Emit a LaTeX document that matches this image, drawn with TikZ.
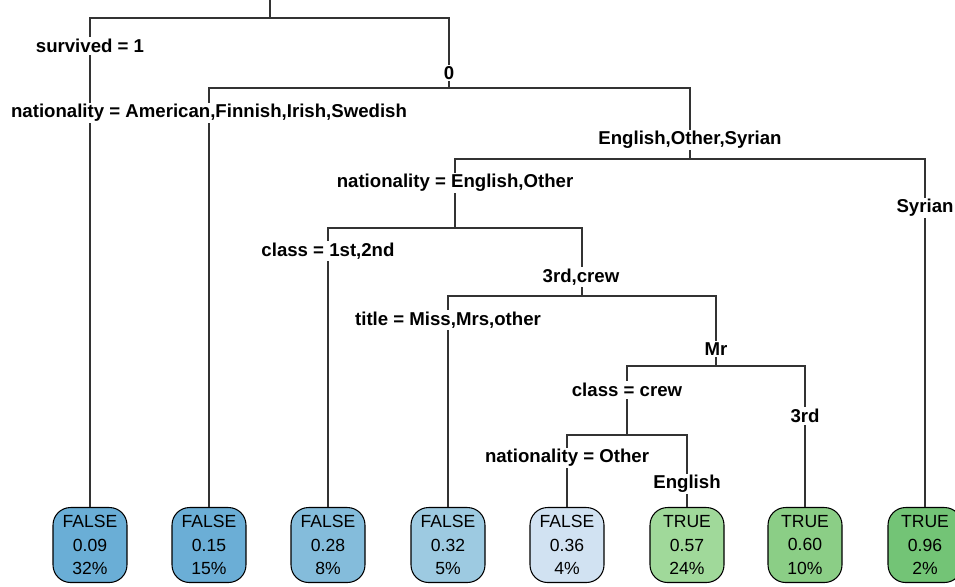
\documentclass[tikz,border=0pt]{standalone}
\usepackage{fontspec}
\setmainfont{Liberation Sans}
\usepackage{tikz}
\definecolor{leaf1}{HTML}{6AAED6}
\definecolor{leaf2}{HTML}{6BAED6}
\definecolor{leaf3}{HTML}{84BCDB}
\definecolor{leaf4}{HTML}{9DCAE1}
\definecolor{leaf5}{HTML}{D1E2F2}
\definecolor{leaf6}{HTML}{A0D99A}
\definecolor{leaf7}{HTML}{8BCE86}
\definecolor{leaf8}{HTML}{73C476}
\tikzstyle{leaf} = [rectangle, draw, rounded corners=10pt, line width=0.6pt,
                 minimum width=1.48cm, minimum height=1.5cm, inner sep=0pt,
                 align=center, font=\fontsize{10}{13.3}\selectfont]
\tikzstyle{branch} = [draw=black!80, line width=0.6pt]
\tikzstyle{split} = [fill=white, inner sep=1pt,
                 font=\bfseries\fontsize{10.6}{12}\selectfont]

\begin{document}
\begin{tikzpicture}[x=0.02cm, y=-0.02cm]
\useasboundingbox (0,0) rectangle (955,586);

% leaves
\foreach \i/\x/\cls/\prob/\pct in {1/90/FALSE/0.09/32, 2/209/FALSE/0.15/15,
    3/328/FALSE/0.28/8, 4/448/FALSE/0.32/5, 5/567/FALSE/0.36/4,
    6/687/TRUE/0.57/24, 7/805/TRUE/0.60/10, 8/925/TRUE/0.96/2}
	\node [leaf, fill=leaf\i] (leaf\i) at (\x,545) {\cls\\\prob\\\pct\%};

% split bars
\coordinate (top) at (270,0);
\coordinate (b1) at (270,18);
\coordinate (b2) at (449,88);
\coordinate (b3) at (690,159);
\coordinate (b4) at (455,228);
\coordinate (b5) at (582,296);
\coordinate (b6) at (716,366);
\coordinate (b7) at (627,435);

\path[branch] (top) -- (b1);
\path[branch] (leaf1.north) |- (b1) -| (b2);
\path[branch] (leaf2.north) |- (b2) -| (b3);
\path[branch] (b4) |- (b3) -| (leaf8.north);
\path[branch] (leaf3.north) |- (b4) -| (b5);
\path[branch] (leaf4.north) |- (b5) -| (b6);
\path[branch] (b7) |- (b6) -| (leaf7.north);
\path[branch] (leaf5.north) |- (b7) -| (leaf6.north);

% split labels
\node [split] (l1) at (90,46) {survived = 1};
\node [split] (r1) at (449,73) {0};
\node [split] (l2) at (209,113) {nationality = American,Finnish,Irish,Swedish};
\node [split] (r2) at (690,140) {English,Other,Syrian};
\node [split] (l3) at (455,183) {nationality = English,Other};
\node [split] (r3) at (925,208) {Syrian};
\node [split] (l4) at (328,251) {class = 1st,2nd};
\node [split] (r4) at (581,277) {3rd,crew};
\node [split] (l5) at (448,320) {title = Miss,Mrs,other};
\node [split] (r5) at (716,349) {Mr};
\node [split] (l6) at (627,390) {class = crew};
\node [split] (r6) at (805,416) {3rd};
\node [split] (l7) at (567,458) {nationality = Other};
\node [split] (r7) at (687,484) {English};

\end{tikzpicture}
\end{document}
